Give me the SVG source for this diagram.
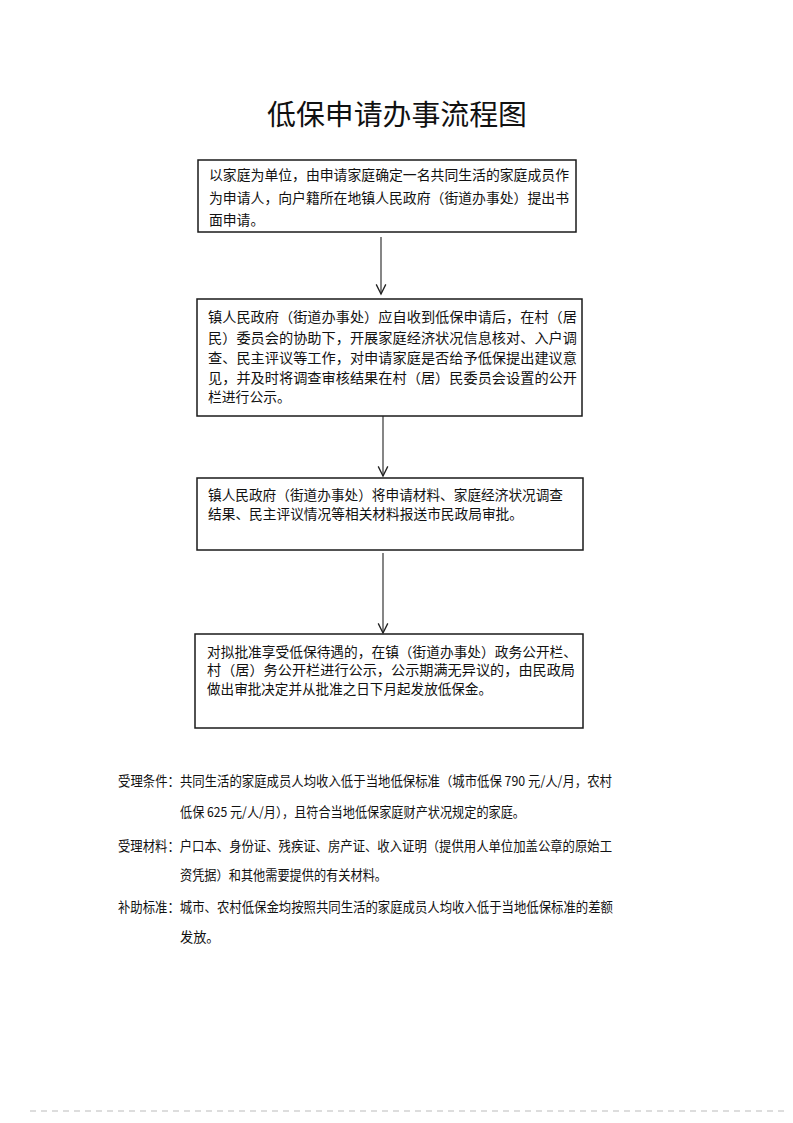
<svg xmlns="http://www.w3.org/2000/svg" width="793" height="1123" viewBox="0 0 793 1123">
  <defs>
    <style>
      .box { fill: #ffffff; stroke: #1a1a1a; stroke-width: 1.5; }
      .t { font-family: "Noto Sans CJK SC", "Noto Sans", sans-serif; font-size: 13.8px; fill: #111111; }
      .b { font-family: "Noto Sans CJK SC", "Lato", sans-serif; font-size: 13.2px; fill: #111111; }
      .title { font-family: "Noto Sans CJK SC", "Noto Sans", sans-serif; font-size: 28.5px; fill: #111111; }
      .conn { stroke: #222222; stroke-width: 1.1; fill: none; }
    </style>
    <marker id="arr" markerUnits="userSpaceOnUse" markerWidth="12" markerHeight="12" refX="8" refY="5" orient="auto" viewBox="0 0 10 10">
      <path d="M0,1 L8,5 L0,9" fill="none" stroke="#222222" stroke-width="1.1"/>
    </marker>
  </defs>
  <rect width="793" height="1123" fill="#ffffff"/>

  <text class="title" x="267" y="125" textLength="260" lengthAdjust="spacingAndGlyphs">低保申请办事流程图</text>

  <g id="node1">
    <rect class="box" x="198" y="160" width="378" height="72"/>
    <text class="t" x="209" y="180" textLength="360" lengthAdjust="spacingAndGlyphs">以家庭为单位，由申请家庭确定一名共同生活的家庭成员作</text>
    <text class="t" x="209" y="203" textLength="360" lengthAdjust="spacingAndGlyphs">为申请人，向户籍所在地镇人民政府（街道办事处）提出书</text>
    <text class="t" x="209" y="225">面申请。</text>
  </g>

  <g id="node2">
    <rect class="box" x="197" y="299" width="385" height="117"/>
    <text class="t" x="208" y="322" textLength="369" lengthAdjust="spacingAndGlyphs">镇人民政府（街道办事处）应自收到低保申请后，在村（居</text>
    <text class="t" x="208" y="343" textLength="369" lengthAdjust="spacingAndGlyphs">民）委员会的协助下，开展家庭经济状况信息核对、入户调</text>
    <text class="t" x="208" y="363" textLength="369" lengthAdjust="spacingAndGlyphs">查、民主评议等工作，对申请家庭是否给予低保提出建议意</text>
    <text class="t" x="208" y="383" textLength="369" lengthAdjust="spacingAndGlyphs">见，并及时将调查审核结果在村（居）民委员会设置的公开</text>
    <text class="t" x="208" y="402">栏进行公示。</text>
  </g>

  <g id="node3">
    <rect class="box" x="197" y="478" width="386" height="72"/>
    <text class="t" x="208" y="500" textLength="355" lengthAdjust="spacingAndGlyphs">镇人民政府（街道办事处）将申请材料、家庭经济状况调查</text>
    <text class="t" x="208" y="519" textLength="315" lengthAdjust="spacingAndGlyphs">结果、民主评议情况等相关材料报送市民政局审批。</text>
  </g>

  <g id="node4">
    <rect class="box" x="195" y="634" width="388" height="94"/>
    <text class="t" x="207" y="657" textLength="370" lengthAdjust="spacingAndGlyphs">对拟批准享受低保待遇的，在镇（街道办事处）政务公开栏、</text>
    <text class="t" x="207" y="675" textLength="368" lengthAdjust="spacingAndGlyphs">村（居）务公开栏进行公示，公示期满无异议的，由民政局</text>
    <text class="t" x="207" y="694" textLength="285" lengthAdjust="spacingAndGlyphs">做出审批决定并从批准之日下月起发放低保金。</text>
  </g>

  <g id="connectors">
    <line class="conn" x1="381" y1="237" x2="381" y2="294" marker-end="url(#arr)"/>
    <line class="conn" x1="383" y1="416" x2="383" y2="476" marker-end="url(#arr)"/>
    <line class="conn" x1="383" y1="553" x2="383" y2="633" marker-end="url(#arr)"/>
  </g>

  <g id="notes">
    <text class="b" x="118" y="786" textLength="494" lengthAdjust="spacingAndGlyphs">受理条件：共同生活的家庭成员人均收入低于当地低保标准（城市低保 790 元/人/月，农村</text>
    <text class="b" x="180" y="817" textLength="345" lengthAdjust="spacingAndGlyphs">低保 625 元/人/月），且符合当地低保家庭财产状况规定的家庭。</text>
    <text class="b" x="118" y="851" textLength="494" lengthAdjust="spacingAndGlyphs">受理材料：户口本、身份证、残疾证、房产证、收入证明（提供用人单位加盖公章的原始工</text>
    <text class="b" x="180" y="880" textLength="207" lengthAdjust="spacingAndGlyphs">资凭据）和其他需要提供的有关材料。</text>
    <text class="b" x="118" y="912" textLength="495" lengthAdjust="spacingAndGlyphs">补助标准：城市、农村低保金均按照共同生活的家庭成员人均收入低于当地低保标准的差额</text>
    <text class="b" x="180" y="942">发放。</text>
  </g>

  <line x1="30" y1="1111" x2="785" y2="1111" stroke="#bbbbbb" stroke-width="1" stroke-dasharray="6 5"/>
</svg>
